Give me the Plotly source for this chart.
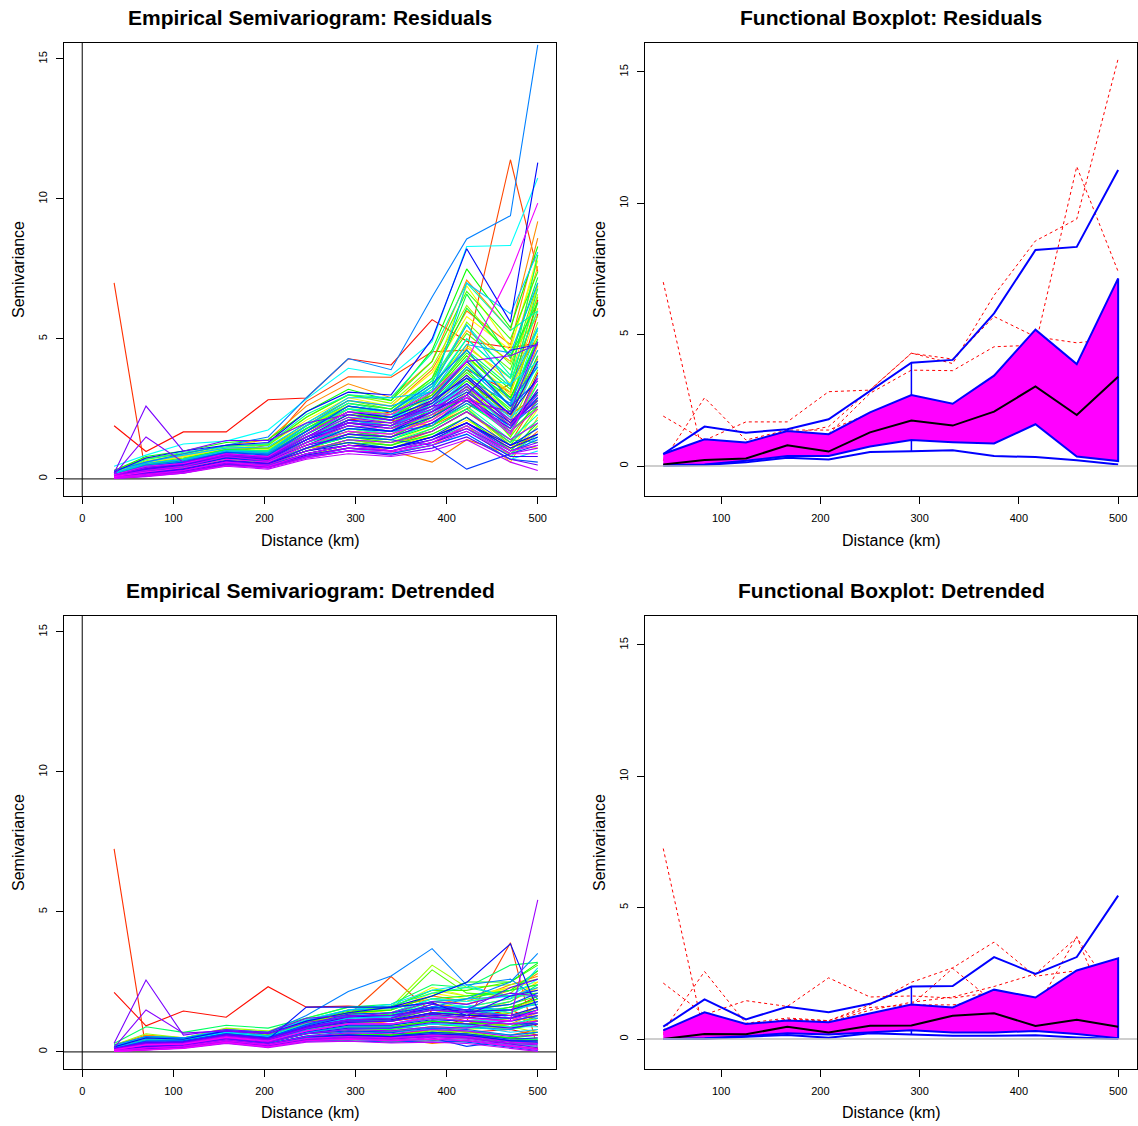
import colorsys
import plotly.graph_objects as go

# ---------------- data ----------------
DIST_EMP = [35, 70, 111, 158, 204, 246, 292, 339, 384, 422, 470, 500]
DIST_FB = [41.7, 83.3, 125.0, 166.7, 208.3, 250.0, 291.7, 333.3, 375.0, 416.7, 458.3, 500.0]
X_TICKS_EMP = [0, 100, 200, 300, 400, 500]
X_TICKS_FB = [100, 200, 300, 400, 500]
Y_TICKS = [0, 5, 10, 15]

# residual semivariograms: named stations
RES_SPIKE = [7.0, 0.12, 0.30, 0.55, 0.50, 0.90, 1.20, 1.10, 1.50, 2.00, 1.10, 1.60]
RES_R19 = [1.90, 0.98, 1.68, 1.68, 2.83, 2.89, 4.29, 4.07, 5.69, 4.92, 4.69, 4.85]
RES_R114 = [0.25, 0.50, 0.55, 0.90, 1.22, 2.77, 3.65, 3.63, 4.54, 4.60, 11.4, 7.40]
RES_LB155 = [0.30, 0.60, 0.90, 1.20, 1.50, 2.90, 4.30, 3.90, 6.50, 8.57, 9.40, 15.5]
RES_P26 = [0.20, 2.60, 0.99, 1.37, 1.37, 2.00, 2.30, 2.10, 2.60, 2.80, 2.40, 4.90]
RES_P15 = [0.15, 1.50, 0.60, 0.90, 0.80, 1.50, 2.00, 1.90, 2.80, 4.20, 4.40, 4.80]
RES_CYAN = [0.45, 0.85, 1.25, 1.35, 1.75, 2.85, 3.95, 3.70, 4.90, 8.30, 8.34, 10.75]
RES_BLUE = [0.25, 0.75, 1.00, 1.20, 1.30, 2.40, 3.10, 3.00, 5.00, 8.22, 5.60, 11.3]
RES_GREEN = [0.30, 0.80, 1.00, 1.30, 1.40, 2.40, 3.20, 2.80, 4.60, 7.50, 5.40, 8.30]
RES_MAG = [0.15, 0.45, 0.55, 0.90, 0.80, 1.60, 2.40, 2.30, 3.10, 4.20, 7.36, 9.85]

RESID_CURVES_A = [
    [0.10, 0.30, 0.45, 0.75, 0.65, 1.20, 1.70, 1.50, 2.20, 3.00, 1.60, 3.80],
    RES_R19,
    [0.20, 0.45, 0.60, 0.95, 0.85, 1.50, 2.10, 2.40, 3.00, 4.20, 2.60, 5.90],
    RES_SPIKE,
    RES_R114,
    [0.05, 0.20, 0.35, 0.60, 0.50, 1.00, 1.40, 1.20, 1.70, 2.40, 1.30, 2.90],
    [0.15, 0.40, 0.55, 0.90, 0.70, 1.60, 2.50, 2.20, 2.80, 3.60, 2.20, 4.40],
    [0.10, 0.25, 0.40, 0.70, 0.55, 1.10, 1.30, 1.00, 0.60, 1.40, 0.90, 1.70],
    [0.30, 0.75, 0.90, 1.20, 1.40, 2.60, 3.40, 2.90, 4.20, 7.10, 5.30, 9.20],
    [0.10, 0.30, 0.45, 0.80, 0.65, 1.30, 1.90, 1.70, 2.50, 3.40, 2.10, 4.80],
    [0.20, 0.55, 0.70, 1.00, 0.95, 1.80, 2.70, 2.50, 3.60, 5.30, 4.20, 7.60],
    [0.05, 0.15, 0.30, 0.55, 0.45, 0.90, 1.10, 0.90, 1.20, 1.90, 0.60, 2.20],
    [0.15, 0.45, 0.60, 0.95, 0.85, 1.50, 2.20, 1.90, 3.00, 4.40, 3.00, 6.10],
    [0.10, 0.35, 0.50, 0.75, 0.70, 1.20, 1.60, 1.40, 2.10, 2.80, 1.80, 3.20],
    [0.25, 0.60, 0.80, 1.10, 1.20, 2.10, 2.90, 2.60, 3.80, 5.80, 4.60, 8.00],
    [0.05, 0.25, 0.40, 0.70, 0.60, 1.10, 1.50, 1.30, 1.90, 2.60, 1.00, 2.50],
    [0.15, 0.40, 0.55, 0.90, 0.80, 1.40, 2.00, 1.80, 2.60, 3.70, 2.40, 5.20],
    [0.10, 0.30, 0.45, 0.80, 0.70, 1.30, 1.80, 1.60, 2.30, 3.20, 1.50, 3.60],
    [0.20, 0.50, 0.70, 1.00, 1.05, 1.90, 2.60, 2.30, 3.30, 4.80, 3.40, 6.60],
    [0.05, 0.20, 0.35, 0.60, 0.55, 1.00, 1.30, 1.10, 1.60, 2.20, 0.80, 1.90],
    [0.25, 0.65, 0.85, 1.15, 1.25, 2.20, 3.00, 2.70, 4.00, 6.20, 4.40, 5.80],
    [0.15, 0.40, 0.55, 0.95, 0.85, 1.60, 2.30, 2.00, 2.90, 4.10, 2.80, 5.60],
    [0.10, 0.30, 0.50, 0.80, 0.70, 1.30, 1.80, 1.60, 2.40, 3.30, 1.90, 3.90],
    [0.05, 0.20, 0.35, 0.65, 0.55, 1.00, 1.40, 1.20, 1.80, 2.50, 1.20, 2.60],
    [0.20, 0.55, 0.75, 1.05, 1.10, 2.00, 2.80, 2.50, 3.50, 5.20, 3.90, 7.00],
    [0.10, 0.35, 0.50, 0.85, 0.75, 1.40, 2.00, 1.80, 2.70, 3.80, 2.50, 4.60],
    [0.15, 0.45, 0.65, 1.00, 0.90, 1.70, 2.40, 2.10, 3.10, 4.50, 3.20, 6.30],
    [0.05, 0.25, 0.40, 0.70, 0.60, 1.10, 1.50, 1.30, 1.70, 2.40, 1.40, 1.30],
    RES_GREEN,
    [0.10, 0.30, 0.45, 0.80, 0.70, 1.30, 1.90, 1.70, 2.50, 3.50, 2.30, 4.20],
    [0.15, 0.40, 0.60, 0.95, 0.85, 1.50, 2.10, 1.90, 2.80, 4.00, 2.90, 5.00],
    [0.05, 0.20, 0.35, 0.65, 0.55, 1.00, 1.30, 1.20, 1.60, 2.20, 1.00, 2.00],
    [0.20, 0.50, 0.70, 1.05, 1.00, 1.80, 2.60, 2.40, 3.40, 6.60, 4.30, 7.20],
    [0.10, 0.35, 0.50, 0.85, 0.75, 1.30, 1.70, 1.50, 2.20, 3.00, 1.70, 3.10],
    [0.20, 0.50, 0.65, 1.00, 0.95, 1.80, 2.50, 2.20, 3.20, 5.00, 3.60, 8.00],
    [0.15, 0.45, 0.60, 0.95, 0.90, 1.60, 2.30, 2.10, 3.10, 4.60, 3.30, 6.80],
    [0.10, 0.30, 0.45, 0.80, 0.65, 1.20, 1.60, 1.40, 2.00, 2.80, 1.60, 3.40],
    [0.05, 0.20, 0.30, 0.60, 0.50, 0.90, 1.20, 1.00, 1.40, 1.90, 0.90, 1.60],
    [0.20, 0.55, 0.70, 1.00, 1.00, 1.90, 2.70, 2.40, 3.50, 5.50, 3.70, 6.00],
    [0.05, 0.25, 0.40, 0.70, 0.60, 1.10, 1.50, 1.40, 2.00, 2.60, 1.40, 2.30],
    [0.15, 0.40, 0.55, 0.90, 0.85, 1.50, 2.10, 1.90, 2.70, 4.00, 2.60, 5.40],
    [0.10, 0.30, 0.45, 0.80, 0.70, 1.30, 1.80, 1.60, 2.30, 3.20, 1.80, 2.90],
    [0.05, 0.15, 0.30, 0.55, 0.45, 0.85, 1.10, 0.90, 1.30, 1.80, 0.80, 1.50],
    RES_CYAN,
    [0.10, 0.35, 0.50, 0.80, 0.75, 1.40, 1.90, 1.70, 2.40, 3.40, 2.10, 4.10],
    [0.05, 0.15, 0.25, 0.55, 0.45, 0.80, 1.00, 0.90, 1.20, 1.60, 0.70, 1.00],
    [0.20, 0.60, 0.85, 1.10, 1.15, 2.00, 2.90, 2.90, 3.10, 7.00, 5.90, 8.10],
    [0.15, 0.45, 0.60, 0.95, 0.85, 1.60, 2.40, 2.20, 3.30, 5.50, 3.30, 5.40],
    [0.10, 0.35, 0.50, 0.85, 0.75, 1.40, 2.00, 1.80, 2.60, 4.00, 2.60, 4.60],
    [0.10, 0.30, 0.45, 0.80, 0.65, 1.30, 1.80, 1.70, 1.90, 3.00, 1.60, 3.70],
    RES_LB155,
    [0.15, 0.50, 0.65, 0.95, 0.90, 1.70, 2.60, 2.40, 3.40, 4.60, 2.80, 4.00],
    [0.05, 0.20, 0.30, 0.60, 0.50, 0.90, 1.20, 1.10, 1.50, 2.00, 1.00, 1.40],
    [0.02, 0.10, 0.25, 0.50, 0.40, 0.80, 1.00, 0.90, 1.20, 1.60, 0.70, 0.60],
    [0.10, 0.30, 0.45, 0.75, 0.65, 1.20, 1.50, 1.40, 1.20, 0.35, 0.90, 1.20],
    [0.05, 0.20, 0.35, 0.65, 0.55, 1.00, 1.30, 1.10, 1.50, 2.20, 1.20, 1.80],
    [0.10, 0.35, 0.50, 0.80, 0.70, 1.40, 1.90, 1.70, 2.40, 3.10, 2.00, 3.10],
    RES_BLUE,
    [0.12, 0.40, 0.55, 0.90, 0.80, 1.60, 2.40, 2.20, 2.80, 3.60, 2.30, 3.60],
    [0.05, 0.20, 0.35, 0.65, 0.55, 1.00, 1.20, 1.10, 1.40, 2.00, 1.10, 1.50],
    [0.15, 0.40, 0.55, 0.90, 0.75, 1.50, 2.00, 1.80, 2.40, 3.00, 4.60, 4.80],
    [0.05, 0.15, 0.30, 0.55, 0.45, 0.85, 1.10, 1.00, 1.30, 1.70, 0.80, 0.80],
    [0.10, 0.35, 0.50, 0.85, 0.70, 1.40, 2.10, 2.00, 2.60, 3.40, 2.00, 2.80],
    [0.02, 0.10, 0.20, 0.50, 0.40, 0.75, 1.00, 0.85, 1.10, 1.50, 0.70, 0.50],
    RES_P26,
    RES_P15,
    [0.12, 0.40, 0.55, 0.85, 0.75, 1.50, 2.20, 2.00, 2.50, 3.20, 1.90, 3.00],
    [0.05, 0.15, 0.25, 0.55, 0.45, 0.80, 1.10, 1.00, 1.40, 1.80, 0.90, 1.10],
    [0.02, 0.08, 0.20, 0.45, 0.35, 0.70, 0.90, 0.80, 1.00, 1.40, 0.60, 0.30],
    [0.10, 0.30, 0.45, 0.80, 0.65, 1.30, 1.90, 1.80, 2.30, 3.00, 1.70, 2.50],
    [0.05, 0.15, 0.30, 0.60, 0.45, 0.90, 1.20, 1.00, 1.30, 1.90, 1.00, 1.20],
    RES_MAG,
]
RESID_CURVES_B = [
    [0.12, 0.35, 0.55, 0.85, 0.75, 1.40, 2.10, 2.30, 2.70, 3.90, 3.10, 6.40],
    [0.18, 0.50, 0.70, 1.00, 0.90, 1.70, 2.40, 2.10, 1.90, 2.50, 3.40, 5.10],
    [0.08, 0.28, 0.40, 0.70, 0.60, 1.20, 1.60, 1.50, 2.30, 2.90, 2.30, 3.00],
    [0.22, 0.60, 0.80, 1.10, 1.10, 1.90, 2.80, 2.60, 3.90, 6.00, 4.80, 8.60],
    [0.10, 0.32, 0.50, 0.80, 0.70, 1.40, 2.00, 1.80, 2.20, 3.60, 2.00, 4.30],
    [0.15, 0.45, 0.60, 0.95, 0.85, 1.70, 2.50, 2.30, 2.90, 4.70, 3.60, 6.90],
    [0.05, 0.22, 0.35, 0.65, 0.50, 1.00, 1.40, 1.30, 1.50, 2.10, 1.20, 1.10],
    [0.20, 0.55, 0.75, 1.05, 1.00, 1.90, 2.60, 2.40, 3.60, 6.90, 4.70, 7.80],
    [0.12, 0.38, 0.55, 0.90, 0.80, 1.50, 2.20, 2.00, 2.80, 4.30, 3.10, 5.40],
    [0.08, 0.28, 0.45, 0.75, 0.65, 1.20, 1.70, 1.60, 2.10, 3.10, 1.90, 3.40],
    [0.18, 0.50, 0.70, 1.00, 0.95, 1.80, 2.50, 2.30, 3.30, 5.60, 4.10, 6.50],
    [0.10, 0.30, 0.45, 0.80, 0.65, 1.30, 1.80, 1.60, 2.40, 3.30, 1.50, 2.80],
    [0.25, 0.70, 0.90, 1.20, 1.20, 2.20, 3.00, 2.80, 4.20, 6.70, 5.00, 7.40],
    [0.15, 0.42, 0.60, 0.95, 0.85, 1.60, 2.30, 2.20, 3.00, 4.40, 2.90, 4.90],
    [0.08, 0.25, 0.40, 0.70, 0.60, 1.10, 1.50, 1.40, 1.90, 2.70, 1.70, 2.60],
    [0.20, 0.50, 0.70, 1.05, 1.00, 1.90, 2.70, 2.50, 3.60, 6.10, 4.40, 6.30],
    [0.10, 0.35, 0.50, 0.85, 0.75, 1.40, 2.00, 1.90, 2.70, 3.90, 2.40, 4.40],
    [0.05, 0.20, 0.35, 0.65, 0.55, 1.00, 1.40, 1.30, 1.80, 2.50, 1.30, 2.10],
    [0.25, 0.70, 0.95, 1.15, 1.25, 2.30, 3.00, 2.90, 4.50, 7.00, 5.30, 6.00],
    [0.15, 0.45, 0.65, 1.00, 0.90, 1.70, 2.50, 2.40, 3.30, 5.00, 3.60, 5.30],
    [0.10, 0.35, 0.50, 0.85, 0.75, 1.50, 2.20, 2.10, 2.90, 4.30, 2.60, 4.00],
    [0.12, 0.40, 0.55, 0.90, 0.80, 1.60, 2.40, 2.30, 2.40, 3.60, 3.40, 4.20],
    [0.08, 0.30, 0.45, 0.80, 0.70, 1.40, 2.00, 1.90, 2.50, 3.40, 2.20, 3.00],
    [0.20, 0.55, 0.70, 1.00, 0.95, 1.90, 2.80, 2.60, 3.10, 4.80, 4.50, 7.00],
    [0.10, 0.35, 0.50, 0.80, 0.70, 1.40, 2.10, 1.90, 2.60, 3.60, 2.70, 4.90],
    [0.05, 0.22, 0.35, 0.65, 0.55, 1.10, 1.60, 1.50, 2.00, 2.70, 1.90, 2.70],
    [0.15, 0.45, 0.60, 0.95, 0.85, 1.70, 2.60, 2.40, 2.90, 4.20, 2.60, 3.50],
    [0.08, 0.28, 0.40, 0.75, 0.60, 1.20, 1.80, 1.70, 2.20, 2.90, 1.90, 2.90],
    [0.04, 0.15, 0.28, 0.55, 0.45, 0.90, 1.20, 1.10, 1.50, 2.00, 1.20, 1.60],
    [0.12, 0.38, 0.55, 0.85, 0.75, 1.50, 2.30, 2.10, 2.70, 3.70, 2.30, 4.20],
    [0.06, 0.22, 0.35, 0.65, 0.55, 1.10, 1.60, 1.50, 2.00, 2.80, 1.80, 3.20],
    [0.03, 0.12, 0.25, 0.50, 0.40, 0.80, 1.10, 1.00, 1.30, 1.80, 1.00, 1.30],
    [0.10, 0.30, 0.45, 0.80, 0.65, 1.30, 2.00, 1.90, 2.40, 3.30, 2.10, 2.60],
    [0.05, 0.18, 0.30, 0.60, 0.50, 1.00, 1.40, 1.30, 1.70, 2.40, 1.40, 2.00],
    [0.02, 0.10, 0.22, 0.48, 0.40, 0.75, 1.00, 0.95, 1.20, 1.70, 0.90, 0.90],
    [0.08, 0.25, 0.40, 0.70, 0.60, 1.20, 1.70, 1.60, 2.10, 2.90, 1.60, 3.60],
]
RESID_OUTLIERS = [RES_SPIKE, RES_R19, RES_R114, RES_LB155, RES_P26]
RESID_MEDIAN = [0.06, 0.23, 0.29, 0.79, 0.55, 1.28, 1.73, 1.54, 2.07, 3.03, 1.94, 3.40]
RESID_BOX_UP = [0.46, 1.02, 0.90, 1.33, 1.21, 2.04, 2.70, 2.37, 3.44, 5.19, 3.88, 7.14]
RESID_BOX_LO = [0.04, 0.06, 0.20, 0.38, 0.38, 0.74, 0.99, 0.91, 0.86, 1.59, 0.36, 0.19]
RESID_WHISK_UP = [0.46, 1.50, 1.27, 1.40, 1.78, 2.86, 3.93, 4.04, 5.81, 8.22, 8.34, 11.27]
RESID_WHISK_LO = [0.00, 0.04, 0.14, 0.32, 0.25, 0.53, 0.56, 0.60, 0.38, 0.34, 0.22, 0.06]

# detrended semivariograms
DET_SPIKE = [7.25, 0.10, 0.25, 0.45, 0.30, 0.50, 0.55, 0.60, 0.80, 0.60, 0.50, 0.40]
DET_R21 = [2.13, 0.93, 1.46, 1.24, 2.33, 1.60, 1.64, 1.56, 1.78, 1.20, 1.50, 1.10]
DET_R39 = [0.20, 0.40, 0.35, 0.60, 0.50, 0.90, 1.30, 2.69, 1.40, 1.10, 3.90, 0.07]
DET_LB37 = [0.25, 0.55, 0.50, 0.75, 0.70, 1.30, 2.16, 2.71, 3.69, 2.39, 2.60, 1.90]
DET_B39 = [0.18, 0.50, 0.45, 0.75, 0.65, 1.10, 1.40, 1.60, 2.00, 2.48, 3.86, 1.50]
DET_P26 = [0.31, 2.57, 0.60, 0.80, 0.70, 1.20, 1.30, 1.30, 1.50, 1.40, 1.20, 1.40]
DET_P15 = [0.15, 1.50, 0.67, 0.75, 0.65, 1.05, 1.25, 1.40, 1.80, 1.70, 2.10, 2.00]
DET_V54 = [0.08, 0.25, 0.28, 0.50, 0.35, 0.65, 0.80, 0.75, 0.90, 0.85, 1.14, 5.43]

DETR_CURVES_A = [
    [0.08, 0.25, 0.30, 0.55, 0.35, 0.65, 0.75, 0.70, 0.90, 0.70, 0.80, 0.60],
    DET_R21,
    [0.15, 0.35, 0.35, 0.60, 0.45, 0.80, 0.95, 1.10, 1.30, 1.00, 1.40, 0.90],
    DET_SPIKE,
    DET_R39,
    [0.05, 0.15, 0.20, 0.40, 0.20, 0.45, 0.50, 0.45, 0.60, 0.50, 0.40, 0.30],
    [0.10, 0.30, 0.30, 0.55, 0.40, 0.75, 0.90, 0.95, 1.20, 1.10, 0.90, 1.30],
    [0.08, 0.20, 0.25, 0.45, 0.30, 0.55, 0.60, 0.50, 0.30, 0.40, 0.30, 0.20],
    [0.25, 0.60, 0.50, 0.80, 0.70, 1.10, 1.40, 1.60, 1.90, 1.70, 2.20, 2.80],
    [0.08, 0.25, 0.30, 0.50, 0.35, 0.70, 0.85, 0.80, 1.00, 0.90, 1.00, 1.40],
    [0.15, 0.45, 0.45, 0.70, 0.55, 0.95, 1.20, 1.30, 1.60, 1.40, 1.80, 2.30],
    [0.04, 0.12, 0.18, 0.35, 0.18, 0.40, 0.40, 0.35, 0.40, 0.50, 0.20, 0.15],
    [0.12, 0.35, 0.35, 0.60, 0.45, 0.80, 1.00, 1.10, 1.40, 1.30, 1.50, 1.90],
    [0.08, 0.25, 0.30, 0.50, 0.35, 0.65, 0.75, 0.75, 0.90, 0.80, 0.90, 1.00],
    [0.20, 0.50, 0.45, 0.75, 0.65, 1.00, 1.30, 1.50, 2.10, 1.90, 2.30, 2.50],
    [0.05, 0.18, 0.22, 0.45, 0.25, 0.50, 0.60, 0.55, 0.70, 0.60, 0.40, 0.50],
    [0.12, 0.35, 0.35, 0.60, 0.45, 0.85, 1.05, 1.20, 1.50, 1.30, 1.30, 1.60],
    [0.08, 0.25, 0.30, 0.55, 0.40, 0.75, 0.90, 0.90, 1.10, 1.00, 0.80, 1.20],
    [0.15, 0.40, 0.45, 0.70, 0.60, 1.10, 1.50, 1.60, 2.20, 2.00, 2.20, 2.40],
    [0.05, 0.15, 0.20, 0.40, 0.22, 0.45, 0.50, 0.45, 0.55, 0.50, 0.30, 0.35],
    [0.25, 0.65, 0.50, 0.85, 0.75, 1.20, 1.60, 1.60, 3.10, 2.30, 2.40, 2.60],
    [0.12, 0.35, 0.35, 0.65, 0.50, 0.85, 1.10, 1.10, 1.40, 1.30, 1.40, 1.80],
    [0.08, 0.25, 0.30, 0.55, 0.40, 0.70, 0.85, 0.85, 1.10, 1.00, 1.00, 1.20],
    [0.05, 0.18, 0.22, 0.45, 0.28, 0.55, 0.60, 0.60, 0.75, 0.70, 0.50, 0.70],
    [0.15, 0.45, 0.40, 0.70, 0.60, 1.05, 1.40, 1.50, 2.93, 2.10, 2.00, 2.10],
    [0.08, 0.28, 0.32, 0.55, 0.40, 0.75, 0.95, 1.00, 1.20, 1.10, 1.20, 1.50],
    [0.12, 0.35, 0.38, 0.65, 0.50, 0.90, 1.15, 1.20, 1.60, 1.50, 1.70, 2.00],
    [0.05, 0.20, 0.25, 0.45, 0.30, 0.55, 0.65, 0.60, 0.70, 0.60, 0.50, 0.40],
    [0.20, 0.55, 0.45, 0.80, 0.65, 1.10, 1.40, 1.50, 2.00, 2.50, 2.50, 3.17],
    [0.08, 0.25, 0.30, 0.55, 0.40, 0.70, 0.90, 0.90, 1.10, 1.00, 1.10, 1.30],
    [0.12, 0.35, 0.35, 0.60, 0.50, 0.85, 1.10, 1.10, 1.40, 1.30, 1.60, 1.70],
    [0.05, 0.15, 0.20, 0.40, 0.25, 0.45, 0.55, 0.50, 0.60, 0.55, 0.35, 0.45],
    [0.15, 0.40, 0.40, 0.70, 0.55, 0.95, 1.25, 1.35, 1.80, 1.90, 2.20, 2.90],
    [0.08, 0.28, 0.30, 0.55, 0.40, 0.70, 0.85, 0.80, 1.00, 0.90, 0.90, 1.10],
    [0.30, 0.90, 0.70, 0.95, 0.85, 1.20, 1.60, 1.70, 2.40, 2.30, 3.10, 3.20],
    [0.12, 0.35, 0.38, 0.65, 0.50, 0.90, 1.15, 1.20, 1.60, 1.50, 1.80, 2.40],
    [0.08, 0.25, 0.28, 0.50, 0.35, 0.65, 0.80, 0.75, 0.90, 0.85, 0.80, 1.00],
    [0.05, 0.15, 0.20, 0.40, 0.22, 0.45, 0.50, 0.45, 0.55, 0.50, 0.30, 0.30],
    [0.15, 0.40, 0.40, 0.70, 0.55, 0.95, 1.25, 1.30, 1.80, 1.60, 1.90, 2.20],
    [0.05, 0.20, 0.25, 0.45, 0.30, 0.55, 0.70, 0.70, 0.80, 0.75, 0.60, 0.70],
    [0.12, 0.35, 0.35, 0.60, 0.50, 0.85, 1.10, 1.10, 1.40, 1.40, 1.50, 1.80],
    [0.08, 0.25, 0.30, 0.55, 0.40, 0.70, 0.85, 0.85, 1.00, 0.95, 0.90, 0.90],
    [0.04, 0.12, 0.18, 0.35, 0.20, 0.40, 0.45, 0.40, 0.45, 0.45, 0.25, 0.25],
    [0.15, 0.40, 0.40, 0.70, 0.55, 1.00, 1.30, 1.40, 1.90, 1.80, 2.00, 2.60],
    [0.08, 0.28, 0.30, 0.55, 0.40, 0.75, 0.95, 0.95, 1.20, 1.10, 1.10, 1.30],
    [0.20, 0.55, 0.50, 0.80, 0.70, 1.15, 1.50, 1.70, 2.20, 2.40, 1.90, 3.00],
    [0.05, 0.12, 0.18, 0.38, 0.22, 0.40, 0.45, 0.40, 0.45, 0.40, 0.25, 0.20],
    [0.12, 0.38, 0.38, 0.65, 0.50, 0.90, 1.20, 1.25, 1.60, 1.60, 1.50, 1.70],
    [0.08, 0.28, 0.30, 0.58, 0.42, 0.78, 1.00, 1.00, 1.30, 1.20, 1.20, 1.40],
    [0.08, 0.25, 0.28, 0.55, 0.38, 0.70, 0.90, 0.90, 0.80, 0.90, 0.80, 1.10],
    DET_LB37,
    [0.12, 0.40, 0.40, 0.65, 0.50, 0.95, 1.30, 1.30, 1.70, 1.50, 1.30, 1.20],
    [0.05, 0.18, 0.22, 0.42, 0.28, 0.50, 0.60, 0.55, 0.65, 0.60, 0.40, 0.35],
    [0.02, 0.08, 0.15, 0.32, 0.18, 0.38, 0.40, 0.35, 0.40, 0.35, 0.15, 0.05],
    [0.08, 0.25, 0.28, 0.50, 0.35, 0.65, 0.75, 0.70, 0.50, 0.20, 0.40, 0.35],
    [0.05, 0.18, 0.22, 0.45, 0.28, 0.55, 0.60, 0.55, 0.70, 0.65, 0.45, 0.50],
    [0.10, 0.30, 0.33, 0.58, 0.45, 1.60, 1.60, 1.60, 1.75, 1.30, 1.30, 1.60],
    DET_B39,
    [0.10, 0.32, 0.35, 0.60, 0.46, 0.88, 1.15, 1.15, 1.40, 1.30, 1.20, 1.50],
    [0.05, 0.18, 0.22, 0.45, 0.28, 0.55, 0.60, 0.55, 0.65, 0.60, 0.40, 0.40],
    [0.10, 0.32, 0.35, 0.60, 0.45, 0.85, 1.05, 1.10, 1.40, 1.30, 2.00, 2.20],
    [0.04, 0.12, 0.18, 0.35, 0.20, 0.40, 0.45, 0.40, 0.45, 0.40, 0.20, 0.10],
    [0.10, 0.30, 0.33, 0.58, 0.44, 0.82, 1.10, 1.10, 1.35, 1.25, 1.10, 1.30],
    [0.12, 0.35, 0.35, 0.62, 0.48, 0.90, 1.15, 1.20, 1.70, 1.50, 2.30, 2.60],
    DET_P26,
    DET_P15,
    DET_V54,
    [0.04, 0.14, 0.18, 0.38, 0.24, 0.45, 0.50, 0.48, 0.55, 0.50, 0.30, 0.25],
    [0.02, 0.06, 0.12, 0.30, 0.15, 0.35, 0.38, 0.32, 0.35, 0.30, 0.12, 0.02],
    [0.08, 0.26, 0.30, 0.55, 0.40, 0.75, 1.00, 1.00, 1.20, 1.10, 1.00, 1.10],
    [0.04, 0.14, 0.20, 0.40, 0.25, 0.48, 0.55, 0.50, 0.60, 0.55, 0.35, 0.30],
    [0.02, 0.08, 0.14, 0.34, 0.18, 0.40, 0.45, 0.40, 0.45, 0.40, 0.20, 0.08],
]
DETR_CURVES_B = [
    [0.10, 0.30, 0.35, 0.60, 0.45, 0.80, 1.00, 1.10, 1.30, 1.20, 1.50, 2.00],
    [0.15, 0.40, 0.40, 0.70, 0.55, 0.90, 1.10, 1.20, 1.50, 1.30, 1.20, 1.60],
    [0.06, 0.20, 0.25, 0.45, 0.30, 0.55, 0.65, 0.60, 0.80, 0.70, 0.60, 0.80],
    [0.20, 0.50, 0.45, 0.75, 0.65, 1.05, 1.35, 1.50, 2.00, 1.80, 2.40, 2.70],
    [0.08, 0.25, 0.30, 0.55, 0.40, 0.70, 0.90, 0.90, 1.10, 1.00, 1.20, 1.10],
    [0.12, 0.38, 0.40, 0.65, 0.50, 0.95, 1.20, 1.30, 1.70, 1.60, 1.90, 2.50],
    [0.04, 0.15, 0.20, 0.40, 0.25, 0.45, 0.55, 0.50, 0.60, 0.50, 0.30, 0.40],
    [0.18, 0.45, 0.45, 0.72, 0.60, 1.05, 1.40, 1.55, 2.30, 2.00, 2.30, 2.20],
    [0.10, 0.30, 0.33, 0.60, 0.45, 0.85, 1.05, 1.10, 1.40, 1.30, 1.40, 1.90],
    [0.06, 0.22, 0.28, 0.50, 0.35, 0.65, 0.80, 0.80, 1.00, 0.90, 0.90, 0.70],
    [0.15, 0.40, 0.42, 0.70, 0.55, 1.00, 1.30, 1.40, 1.90, 1.80, 2.10, 2.90],
    [0.08, 0.25, 0.30, 0.55, 0.40, 0.75, 0.95, 0.95, 1.20, 1.10, 0.90, 1.30],
    [0.20, 0.55, 0.50, 0.80, 0.70, 1.10, 1.45, 1.60, 2.20, 2.20, 2.50, 3.10],
    [0.10, 0.32, 0.35, 0.62, 0.48, 0.88, 1.10, 1.15, 1.50, 1.40, 1.60, 1.90],
    [0.05, 0.18, 0.22, 0.45, 0.28, 0.52, 0.62, 0.60, 0.70, 0.65, 0.50, 0.60],
    [0.15, 0.42, 0.42, 0.70, 0.58, 1.00, 1.30, 1.40, 1.90, 2.00, 2.20, 2.40],
    [0.10, 0.30, 0.32, 0.58, 0.45, 0.82, 1.05, 1.10, 1.40, 1.40, 1.30, 1.50],
    [0.05, 0.16, 0.22, 0.42, 0.26, 0.50, 0.60, 0.55, 0.65, 0.60, 0.40, 0.45],
    [0.20, 0.50, 0.48, 0.78, 0.68, 1.15, 1.50, 1.65, 2.10, 2.30, 2.00, 2.00],
    [0.12, 0.35, 0.38, 0.65, 0.50, 0.92, 1.20, 1.25, 1.60, 1.60, 1.40, 1.80],
    [0.08, 0.28, 0.30, 0.56, 0.40, 0.76, 0.98, 1.00, 1.25, 1.20, 1.00, 1.20],
    [0.10, 0.32, 0.35, 0.62, 0.46, 0.90, 1.20, 1.30, 1.50, 1.70, 1.20, 1.50],
    [0.06, 0.22, 0.26, 0.50, 0.34, 0.66, 0.82, 0.85, 1.00, 0.95, 0.70, 0.80],
    [0.15, 0.45, 0.45, 0.72, 0.58, 1.10, 1.50, 1.55, 1.80, 1.90, 2.00, 2.30],
    [0.10, 0.30, 0.33, 0.58, 0.44, 0.85, 1.10, 1.20, 1.60, 1.90, 2.50, 3.52],
    [0.05, 0.18, 0.24, 0.46, 0.30, 0.58, 0.72, 0.70, 0.85, 0.80, 0.60, 0.70],
    [0.12, 0.38, 0.40, 0.66, 0.52, 0.98, 1.35, 1.40, 1.60, 1.50, 1.70, 2.10],
    [0.08, 0.25, 0.28, 0.52, 0.38, 0.72, 0.95, 0.95, 1.15, 1.10, 1.00, 1.00],
    [0.04, 0.12, 0.18, 0.38, 0.22, 0.45, 0.55, 0.50, 0.60, 0.55, 0.35, 0.30],
    [0.10, 0.32, 0.35, 0.62, 0.48, 0.92, 1.25, 1.30, 1.55, 1.45, 1.50, 1.80],
    [0.06, 0.20, 0.25, 0.48, 0.34, 0.66, 0.85, 0.85, 1.05, 1.00, 0.85, 1.00],
    [0.03, 0.10, 0.16, 0.36, 0.20, 0.42, 0.50, 0.45, 0.55, 0.50, 0.30, 0.15],
    [0.10, 0.30, 0.32, 0.58, 0.44, 0.85, 1.15, 1.20, 1.50, 1.40, 1.30, 1.40],
    [0.05, 0.16, 0.22, 0.44, 0.28, 0.55, 0.68, 0.65, 0.80, 0.75, 0.55, 0.60],
    [0.02, 0.08, 0.14, 0.34, 0.18, 0.40, 0.48, 0.42, 0.50, 0.45, 0.25, 0.10],
    [0.08, 0.25, 0.28, 0.52, 0.38, 0.75, 1.00, 1.00, 1.25, 1.20, 1.10, 1.50],
]
DETR_OUTLIERS = [DET_SPIKE, DET_R21, DET_R39, DET_LB37, DET_B39, DET_P26]
DETR_MEDIAN = [0.00, 0.19, 0.18, 0.47, 0.25, 0.51, 0.52, 0.89, 0.98, 0.50, 0.73, 0.47]
DETR_BOX_UP = [0.33, 1.02, 0.57, 0.71, 0.64, 0.98, 1.31, 1.20, 1.88, 1.58, 2.61, 3.07]
DETR_BOX_LO = [0.00, 0.03, 0.11, 0.22, 0.17, 0.25, 0.33, 0.25, 0.25, 0.31, 0.19, 0.03]
DETR_WHISK_UP = [0.47, 1.51, 0.75, 1.23, 1.02, 1.34, 2.00, 2.02, 3.12, 2.48, 3.12, 5.46]
DETR_WHISK_LO = [0.00, 0.00, 0.09, 0.15, 0.05, 0.22, 0.17, 0.13, 0.13, 0.14, 0.06, 0.00]

TITLES = ["Empirical Semivariogram: Residuals", "Functional Boxplot: Residuals",
          "Empirical Semivariogram: Detrended", "Functional Boxplot: Detrended"]
X_LABEL = "Distance (km)"
Y_LABEL = "Semivariance"

# ---------------- layout geometry ----------------
W, H = 1138, 1126
FONT = "Liberation Sans, Arial, Helvetica, sans-serif"
HUE_END = 0.84


def px_x(p):
    return p / W


def px_y(p):
    return 1 - p / H


DOM_X_L = [px_x(64), px_x(556)]
DOM_X_R = [px_x(645), px_x(1137)]
DOM_Y_T = [px_y(496), px_y(43)]
DOM_Y_B = [px_y(1069), px_y(616)]


def merge(a, b):
    out, j = [], 0
    for i, c in enumerate(a):
        out.append(c)
        if i % 2 == 1 and j < len(b):
            out.append(b[j])
            j += 1
    out.extend(b[j:])
    return out


def rainbow(n):
    cols = []
    for i in range(n):
        r, g, b = colorsys.hsv_to_rgb(HUE_END * i / n, 1, 1)
        cols.append("rgb(%d,%d,%d)" % (round(r * 255), round(g * 255), round(b * 255)))
    return cols


fig = go.Figure()


def add_spaghetti(curves, xa, ya):
    cols = rainbow(len(curves))
    for c, col in zip(curves, cols):
        fig.add_trace(go.Scatter(x=DIST_EMP, y=c, mode="lines", xaxis=xa, yaxis=ya,
                                 line=dict(color=col, width=1.1), hoverinfo="skip",
                                 showlegend=False))


def add_fbplot(outliers, med, bup, blo, wup, wlo, xa, ya):
    for c in outliers:
        fig.add_trace(go.Scatter(x=DIST_FB, y=c, mode="lines", xaxis=xa, yaxis=ya,
                                 line=dict(color="red", width=1, dash="3px,3px"),
                                 hoverinfo="skip", showlegend=False))
    fig.add_trace(go.Scatter(x=DIST_FB + DIST_FB[::-1], y=bup + blo[::-1], mode="lines",
                             fill="toself", fillcolor="#FF00FF", xaxis=xa, yaxis=ya,
                             line=dict(color="blue", width=2), hoverinfo="skip",
                             showlegend=False))
    fig.add_trace(go.Scatter(x=DIST_FB, y=med, mode="lines", xaxis=xa, yaxis=ya,
                             line=dict(color="black", width=2), hoverinfo="skip",
                             showlegend=False))
    for w in (wup, wlo):
        fig.add_trace(go.Scatter(x=DIST_FB, y=w, mode="lines", xaxis=xa, yaxis=ya,
                                 line=dict(color="blue", width=2), hoverinfo="skip",
                                 showlegend=False))
    mid = len(DIST_FB) // 2
    xm = DIST_FB[mid]
    for y0, y1 in ((bup[mid], wup[mid]), (blo[mid], wlo[mid])):
        fig.add_trace(go.Scatter(x=[xm, xm], y=[y0, y1], mode="lines", xaxis=xa, yaxis=ya,
                                 line=dict(color="blue", width=1.5), hoverinfo="skip",
                                 showlegend=False))


add_spaghetti(merge(RESID_CURVES_A, RESID_CURVES_B), "x", "y")
add_fbplot(RESID_OUTLIERS, RESID_MEDIAN, RESID_BOX_UP, RESID_BOX_LO,
           RESID_WHISK_UP, RESID_WHISK_LO, "x2", "y2")
add_spaghetti(merge(DETR_CURVES_A, DETR_CURVES_B), "x3", "y3")
add_fbplot(DETR_OUTLIERS, DETR_MEDIAN, DETR_BOX_UP, DETR_BOX_LO,
           DETR_WHISK_UP, DETR_WHISK_LO, "x4", "y4")

axis_common = dict(showgrid=False, zeroline=False, showline=True, mirror=True,
                   linecolor="black", linewidth=1, ticks="outside", ticklen=7,
                   tickwidth=1, tickcolor="black",
                   tickfont=dict(family=FONT, size=11, color="black"))


def xaxis(dom, rng, tv, anchor):
    return dict(domain=dom, range=rng, tickvals=tv, ticktext=[str(v) for v in tv],
                anchor=anchor, ticklabelstandoff=5, **axis_common)


def yaxis(dom, rng, anchor):
    return dict(domain=dom, range=rng, tickvals=Y_TICKS, ticktext=[str(v) for v in Y_TICKS],
                anchor=anchor, tickangle=-90, ticklabelstandoff=5, **axis_common)


EMP_XR = [-20, 520]
EMP_YR = [-0.61, 15.57]
FB_XR = [23.3, 519]
FB_YR = [-1.14, 16.1]

fig.update_layout(
    width=W, height=H, margin=dict(l=0, r=0, t=0, b=0),
    paper_bgcolor="white", plot_bgcolor="white", showlegend=False,
    xaxis=xaxis(DOM_X_L, EMP_XR, X_TICKS_EMP, "y"),
    yaxis=yaxis(DOM_Y_T, EMP_YR, "x"),
    xaxis2=xaxis(DOM_X_R, FB_XR, X_TICKS_FB, "y2"),
    yaxis2=yaxis(DOM_Y_T, FB_YR, "x2"),
    xaxis3=xaxis(DOM_X_L, EMP_XR, X_TICKS_EMP, "y3"),
    yaxis3=yaxis(DOM_Y_B, EMP_YR, "x3"),
    xaxis4=xaxis(DOM_X_R, FB_XR, X_TICKS_FB, "y4"),
    yaxis4=yaxis(DOM_Y_B, FB_YR, "x4"),
)

shapes = []
for xr, yr in (("x", "y"), ("x3", "y3")):
    shapes.append(dict(type="line", xref=xr, yref=yr + " domain", x0=0, x1=0, y0=0, y1=1,
                       line=dict(color="black", width=1), layer="below"))
    shapes.append(dict(type="line", xref=xr + " domain", yref=yr, x0=0, x1=1, y0=0, y1=0,
                       line=dict(color="black", width=1), layer="below"))
for xr, yr in (("x2", "y2"), ("x4", "y4")):
    shapes.append(dict(type="line", xref=xr + " domain", yref=yr, x0=0, x1=1, y0=0, y1=0,
                       line=dict(color="#BEBEBE", width=1.5), layer="above"))
fig.update_layout(shapes=shapes)

ann = []
cx_l = (64 + 556) / 2
cx_r = (645 + 1137) / 2
for title, cx, cy in ((TITLES[0], cx_l, 17), (TITLES[1], cx_r, 17),
                      (TITLES[2], cx_l, 590), (TITLES[3], cx_r, 590)):
    ann.append(dict(text=title, x=px_x(cx), y=px_y(cy), xref="paper", yref="paper",
                    showarrow=False, xanchor="center", yanchor="middle",
                    font=dict(family=FONT, size=21, color="black", weight="bold")))
for cx, cy in ((cx_l, 540), (cx_r, 540), (cx_l, 1112), (cx_r, 1112)):
    ann.append(dict(text=X_LABEL, x=px_x(cx), y=px_y(cy), xref="paper", yref="paper",
                    showarrow=False, xanchor="center", yanchor="middle",
                    font=dict(family=FONT, size=16, color="black")))
for cx, cy in ((18, 270), (599, 270), (18, 843), (599, 843)):
    ann.append(dict(text=Y_LABEL, x=px_x(cx), y=px_y(cy), xref="paper", yref="paper",
                    showarrow=False, xanchor="center", yanchor="middle", textangle=-90,
                    font=dict(family=FONT, size=16, color="black")))
fig.update_layout(annotations=ann)

fig.write_html("out.html")
